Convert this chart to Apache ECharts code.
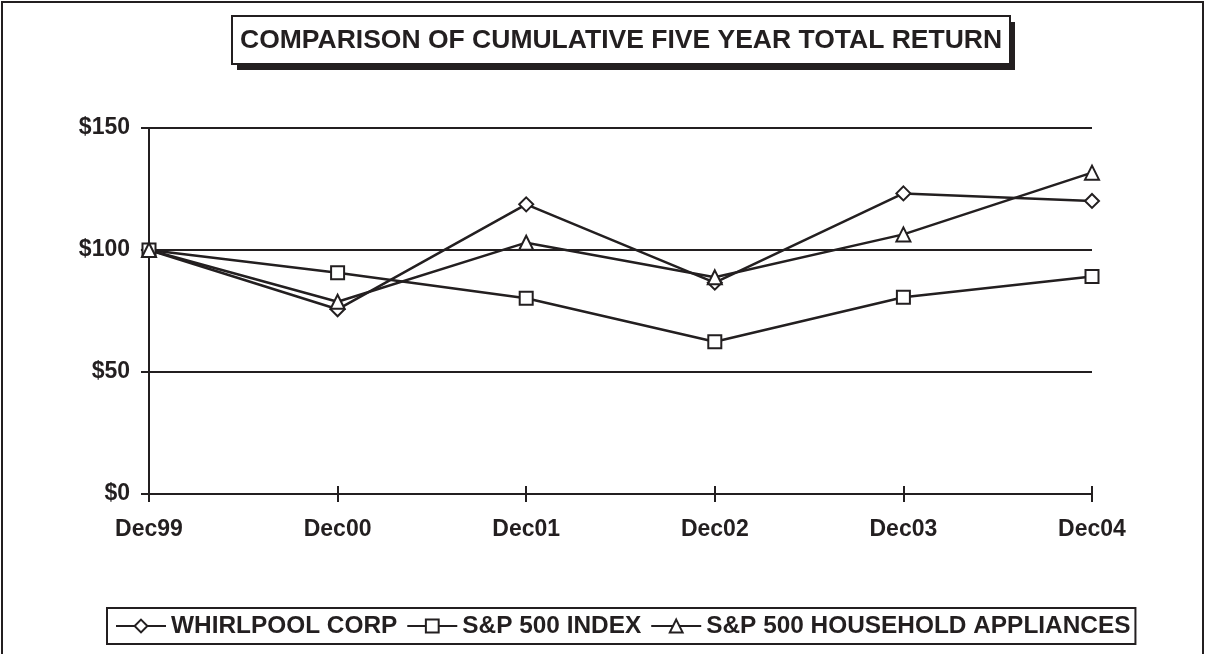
<!DOCTYPE html>
<html>
<head>
<meta charset="utf-8">
<script src="https://cdn.jsdelivr.net/npm/echarts@6/dist/echarts.min.js"></script>
<style>
  html, body { margin: 0; padding: 0; background: #fff; }
  #main { width: 1206px; height: 654px; }
</style>
</head>
<body>
<div id="main"></div>
<script>
// data
var years = ['Dec99', 'Dec00', 'Dec01', 'Dec02', 'Dec03', 'Dec04'];
var whirlpool = [100, 75.7, 118.7, 86.6, 123.2, 120.1];
var sp500 = [100, 90.7, 80.2, 62.4, 80.6, 89.1];
var appliances = [100, 78.8, 103.0, 88.8, 106.4, 131.7];
var yTicks = [0, 50, 100, 150];

var ink = '#231f20';
var font = '"Liberation Sans", Arial, sans-serif';

function lineSeries(name, data, symbol, size) {
  return {
    name: name,
    type: 'line',
    data: data,
    symbol: symbol,
    symbolSize: size,
    showAllSymbol: true,
    lineStyle: { color: ink, width: 2.5 },
    itemStyle: { color: '#fff', borderColor: ink, borderWidth: 2 },
    emphasis: { disabled: true },
    z: 3
  };
}

var myChart = echarts.init(document.getElementById('main'));
var option = {
  animation: false,
  backgroundColor: '#fff',
  textStyle: { fontFamily: font, color: ink },
  title: {
    text: 'COMPARISON OF CUMULATIVE FIVE YEAR TOTAL RETURN',
    left: 240,
    top: 27,
    padding: 0,
    textStyle: { fontFamily: font, fontSize: 26.5, fontWeight: 'bold', color: ink, lineHeight: 27 }
  },
  legend: {
    left: 107,
    top: 608,
    padding: [6, 5, 6, 8],
    borderColor: ink,
    borderWidth: 2,
    backgroundColor: '#fff',
    itemWidth: 50,
    itemHeight: 16,
    itemGap: 9,
    textStyle: { fontFamily: font, fontSize: 24.4, fontWeight: 'bold', color: ink },
    data: ['WHIRLPOOL CORP', 'S&P 500 INDEX', 'S&P 500 HOUSEHOLD APPLIANCES']
  },
  graphic: [{
    type: 'rect',
    shape: { x: 2, y: 2, width: 1201, height: 720 },
    style: { fill: 'none', stroke: ink, lineWidth: 2 },
    silent: true
  }, {
    // title box shadow
    type: 'rect',
    shape: { x: 237, y: 22, width: 778, height: 48 },
    style: { fill: ink },
    silent: true
  }, {
    type: 'rect',
    shape: { x: 232, y: 16, width: 778, height: 48 },
    style: { fill: '#fff', stroke: ink, lineWidth: 2 },
    silent: true
  }],
  grid: { left: 149, right: 114, top: 128, bottom: 160 },
  xAxis: [{
    type: 'category',
    data: years,
    boundaryGap: false,
    position: 'bottom',
    axisLine: { lineStyle: { color: ink, width: 2 } },
    axisTick: { show: true, length: 8, lineStyle: { color: ink, width: 2 } },
    axisLabel: { margin: 24, fontFamily: font, fontSize: 23, fontWeight: 'bold', color: ink }
  }, {
    type: 'category',
    data: years,
    boundaryGap: false,
    position: 'bottom',
    axisLine: { show: false },
    axisTick: { show: true, inside: true, length: 8, lineStyle: { color: ink, width: 2 } },
    axisLabel: { show: false }
  }],
  yAxis: {
    type: 'value',
    min: yTicks[0],
    max: yTicks[yTicks.length - 1],
    interval: 50,
    axisLine: { show: true, lineStyle: { color: ink, width: 2 } },
    axisTick: { show: true, length: 8, lineStyle: { color: ink, width: 2 } },
    splitLine: { lineStyle: { color: ink, width: 2 } },
    axisLabel: {
      margin: 19,
      fontFamily: font, fontSize: 23, fontWeight: 'bold', color: ink,
      formatter: function (v) { return '$' + v; }
    }
  },
  series: [
    lineSeries('WHIRLPOOL CORP', whirlpool, 'diamond', 14),
    lineSeries('S&P 500 INDEX', sp500, 'rect', 13),
    lineSeries('S&P 500 HOUSEHOLD APPLIANCES', appliances, 'triangle', 14)
  ]
};
myChart.setOption(option);
</script>
</body>
</html>
